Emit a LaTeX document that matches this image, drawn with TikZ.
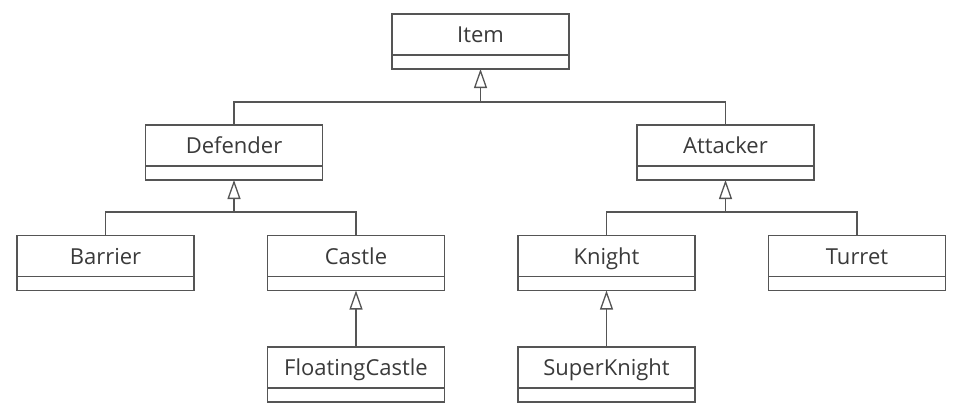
\documentclass[tikz,border=0pt]{standalone}
\usepackage{fontspec}
\setmainfont{Open Sans}
\usetikzlibrary{arrows.meta}
\definecolor{linec}{HTML}{555555}
\definecolor{textc}{HTML}{3A3A3A}
\tikzset{
  cls/.style={draw=linec, line width=1.3pt, fill=white, minimum width=177pt, minimum height=55pt, inner sep=0pt, outer sep=0pt},
  clsname/.style={text=textc, font=\fontsize{22}{25}\selectfont, inner sep=0pt, anchor=base},
  conn/.style={draw=linec, line width=1.3pt},
  gen/.style={conn, -{Triangle[open, length=19pt, width=13pt, line width=1.3pt]}},
}
\newcommand{\umlclass}[3]{%
  \node[cls] (#1) at (#2) {};
  \node[clsname] (#1-t) at ([yshift=-28.5pt]#1.north) {#3};
  \draw[conn] ([yshift=-41pt]#1.north west) -- ([yshift=-41pt]#1.north east);
}
\begin{document}
\begin{tikzpicture}[x=1pt,y=-1pt]
\useasboundingbox (0,0) rectangle (969,418);
\umlclass{item}{480.5,41.5}{Item}
\umlclass{defender}{234,152.5}{Defender}
\umlclass{attacker}{725.5,152.5}{Attacker}
\umlclass{barrier}{105.5,263}{Barrier}
\umlclass{castle}{356,263}{Castle}
\umlclass{knight}{606.5,263}{Knight}
\umlclass{turret}{857,263}{Turret}
\umlclass{floating}{356,374.5}{FloatingCastle}
\umlclass{superknight}{606.5,374.5}{SuperKnight}
\coordinate (j1) at (480.5,102);
\coordinate (j2) at (234,212);
\coordinate (j3) at (725.5,212);
\draw[conn] (defender.north) |- (j1) -| (attacker.north);
\draw[gen] (j1) -- (item.south);
\draw[conn] (barrier.north) |- (j2) -| (castle.north);
\draw[gen] (j2) -- (defender.south);
\draw[conn] (knight.north) |- (j3) -| (turret.north);
\draw[gen] (j3) -- (attacker.south);
\draw[gen] (floating.north) -- (castle.south);
\draw[gen] (superknight.north) -- (knight.south);
\end{tikzpicture}
\end{document}
